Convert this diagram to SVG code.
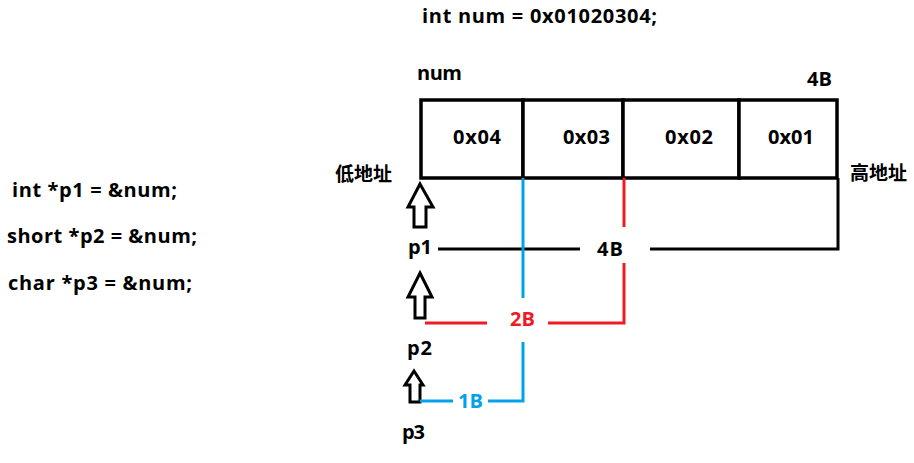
<svg xmlns="http://www.w3.org/2000/svg" width="914" height="463" viewBox="0 0 914 463">
<style>
text{font-family:"Open Sans","Noto Sans CJK SC",sans-serif;font-weight:bold;font-size:20px;fill:#000}
.cjk{font-family:"Noto Sans CJK SC",sans-serif;font-size:19px}
.cell{fill:#fff;stroke:#000;stroke-width:3.5}
.arrow{fill:#fff;stroke:#000;stroke-width:3;stroke-linejoin:miter}
.blk{stroke:#000;stroke-width:3;fill:none}
.red{stroke:#ed1c24;stroke-width:3;fill:none}
.blue{stroke:#00a2e8;stroke-width:3;fill:none}
</style>
<rect width="914" height="463" fill="#fff"/>
<text x="422" y="23" textLength="235">int num = 0x01020304;</text>
<g id="code">
<text x="12" y="197" textLength="165">int *p1 = &amp;num;</text>
<text x="7" y="243" textLength="190">short *p2 = &amp;num;</text>
<text x="8" y="290" textLength="184">char *p3 = &amp;num;</text>
</g>
<g id="num">
<text x="417" y="80" textLength="45">num</text>
<text x="807" y="86" textLength="25">4B</text>
<rect class="cell" x="421" y="100" width="102" height="78"/>
<rect class="cell" x="523" y="100" width="100" height="78"/>
<rect class="cell" x="623" y="100" width="116" height="78"/>
<rect class="cell" x="739" y="100" width="98" height="78"/>
<text x="453" y="144" textLength="48">0x04</text>
<text x="563" y="144" textLength="47">0x03</text>
<text x="665" y="144" textLength="48">0x02</text>
<text x="768" y="144" textLength="46">0x01</text>
</g>
<g id="low"><text class="cjk" x="335" y="181">低地址</text></g>
<g id="high"><text class="cjk" x="850" y="180">高地址</text></g>
<g id="p1">
<path class="arrow" d="M420,184 L433,207 L426,207 L426,227 L414,227 L414,207 L408,207 Z"/>
<text x="408" y="254" textLength="24">p1</text>
</g>
<g id="p2">
<path class="arrow" d="M420,273 L432,297 L425,297 L425,318 L415,318 L415,297 L408,297 Z"/>
<text x="407" y="355" textLength="25">p2</text>
</g>
<g id="p3">
<path class="arrow" d="M414,371 L423,385 L420,385 L420,402 L410,402 L410,385 L405,385 Z"/>
<text x="402" y="439" textLength="23">p3</text>
</g>
<g id="connectors">
<path class="blk" d="M438,249 H580 M650,249 H838 V178"/>
<text x="597" y="256" textLength="26">4B</text>
<path class="red" d="M624,178 V227 M624,263 V323 H548 M487,323 H425"/>
<text x="510" y="326" textLength="25" style="fill:#ed1c24">2B</text>
<path class="blue" d="M523,178 V298 M523,342 V401 H488 M453,401 H420"/>
<text x="458" y="408" textLength="25" style="fill:#00a2e8">1B</text>
</g>
</svg>
